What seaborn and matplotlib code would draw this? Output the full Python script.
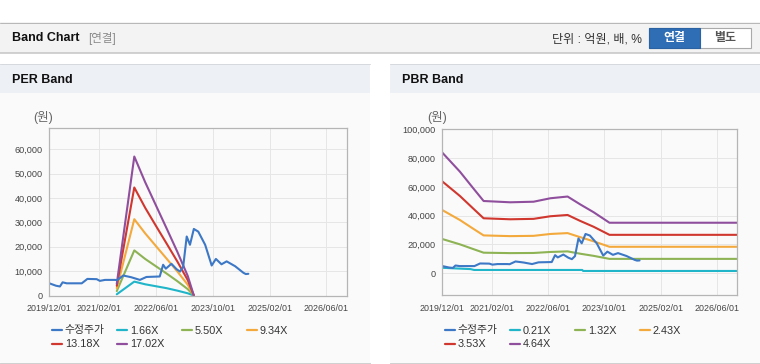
import pandas as pd
import seaborn as sns
import matplotlib.pyplot as plt
from matplotlib.patches import Rectangle
from matplotlib.lines import Line2D
from matplotlib.ticker import FuncFormatter

W, H = 760, 364

# adjusted share price (same series on both charts)
price_dates = ["2019-12-01", "2020-01-28", "2020-03-01", "2020-03-24", "2020-04-28",
               "2020-09-04", "2020-10-22", "2021-01-10", "2021-02-06", "2021-03-22",
               "2021-06-15", "2021-07-05", "2021-08-25", "2021-11-01", "2022-01-15",
               "2022-03-12", "2022-07-04", "2022-08-02", "2022-08-25", "2022-10-12",
               "2022-11-25", "2022-12-25", "2023-01-21", "2023-02-20", "2023-03-20",
               "2023-04-22", "2023-05-30", "2023-07-28", "2023-09-22", "2023-10-28",
               "2023-12-15", "2024-01-28", "2024-04-10", "2024-06-20", "2024-07-10",
               "2024-08-01"]
price_values = [5000, 4000, 3700, 5400, 5000,
                5000, 6800, 6700, 6000, 6400,
                6400, 6300, 8200, 7500, 6400,
                7600, 7800, 12600, 11000, 13000,
                10800, 9800, 11900, 24200, 20800,
                27300, 26200, 20800, 12300, 15000,
                12800, 14000, 12000, 9300, 8800,
                8900]

# PER bands
per_dates = ["2021-07-01", "2021-11-28", "2022-03-01", "2022-06-01", "2022-09-01",
             "2022-12-01", "2023-03-01", "2023-04-22"]
per_labels = ["1.66X", "5.50X", "9.34X", "13.18X", "17.02X"]
per_1_66 = [500, 5700, 4600, 3800, 3000, 2000, 900, 0]
per_5_50 = [1800, 18500, 15000, 12000, 9000, 5900, 2600, 0]
per_9_34 = [3000, 31300, 25500, 20300, 15100, 9900, 4400, 0]
per_13_18 = [4000, 44300, 36000, 28600, 21300, 14000, 6300, 0]
per_17_02 = [4800, 57000, 46500, 37000, 27500, 18000, 8000, 0]

# PBR bands
pbr_dates = ["2019-12-01", "2020-05-01", "2020-08-25", "2020-11-22", "2021-07-10",
             "2022-01-28", "2022-06-22", "2022-11-18", "2023-03-06", "2023-07-01",
             "2023-11-15", "2026-11-25"]
pbr_labels = ["0.21X", "1.32X", "2.43X", "3.53X", "4.64X"]
pbr_0_21_dates = ["2019-12-01", "2020-08-01", "2020-09-01", "2023-03-25", "2023-04-01",
                  "2026-11-25"]
pbr_0_21 = [3800, 2900, 2300, 2300, 1600, 1600]
pbr_1_32 = [23800, 20100, 16800, 14300, 14000, 14100, 14800, 15200, 13600, 12100, 10000, 10000]
pbr_2_43 = [43900, 37000, 30900, 26300, 25800, 26000, 27300, 27900, 25100, 22200, 18400, 18400]
pbr_3_53 = [63800, 53700, 44900, 38200, 37500, 37800, 39600, 40500, 36400, 32300, 26700, 26700]
pbr_4_64 = [83800, 70600, 59000, 50200, 49300, 49700, 52100, 53300, 47900, 42400, 35100, 35100]

tick_dates = ["2019-12-01", "2021-02-01", "2022-06-01", "2023-10-01", "2025-02-01", "2026-06-01"]
tick_labels = ["2019/12/01", "2021/02/01", "2022/06/01", "2023/10/01", "2025/02/01", "2026/06/01"]

colors = ["#3d78c6", "#20b5c9", "#8db354", "#f3a93c", "#d0372e", "#8f4f9d"]

sns.set_style("white")
FONT = ["Liberation Sans", "Noto Sans CJK KR", "DejaVu Sans"]
plt.rcParams["font.family"] = FONT


def fx(px):
    return px / W


def fy(py):
    return 1 - py / H


fig = plt.figure(figsize=(W / 100, H / 100), dpi=100)
fig.patch.set_facecolor("white")


def rect(x0, y0, x1, y1, fc, ec="none", lw=0.0, z=-5):
    fig.add_artist(Rectangle((fx(x0), fy(y1)), (x1 - x0) / W, (y1 - y0) / H,
                             transform=fig.transFigure, facecolor=fc, edgecolor=ec,
                             linewidth=lw, zorder=z))


def hline(x0, x1, y, color, lw=1.0, z=-4):
    fig.add_artist(Line2D([fx(x0), fx(x1)], [fy(y), fy(y)], transform=fig.transFigure,
                          color=color, linewidth=lw * 0.72, zorder=z))


# top header bar
rect(0, 22.5, 760, 52.5, "#f3f3f3")
hline(0, 760, 22.5, "#b8b8b8")
hline(0, 760, 52.8, "#c4c4c4", lw=1.5)
fig.text(fx(12), fy(38), "Band Chart", fontsize=9, fontweight="bold", color="#111",
         va="center", ha="left")
fig.text(fx(88), fy(38.5), "[연결]", fontsize=8.3, color="#8a8a8a", va="center", ha="left")
fig.text(fx(641.5), fy(39), "단위 : 억원, 배, %", fontsize=8.7, color="#333",
         va="center", ha="right")
rect(648.5, 28.5, 750.5, 47.5, "white", ec="#aaaaaa", lw=0.8, z=-3)
rect(648.5, 28.5, 699.5, 47.5, "#2f6db4", ec="#2a62a3", lw=0.8, z=-2)
fig.text(fx(674), fy(38.5), "연결", fontsize=8.6, fontweight="bold", color="white",
         va="center", ha="center")
fig.text(fx(725), fy(38.5), "별도", fontsize=8.6, fontweight="bold", color="#555",
         va="center", ha="center")

# panels
for px0, px1, title in [(0, 370, "PER Band"), (390, 760, "PBR Band")]:
    rect(px0, 92.7, px1, 362, "#fafafa")
    rect(px0, 64.3, px1, 92.7, "#edf1f6")
    hline(px0, px1, 64.3, "#d6d9dd")
    hline(px0, px1, 362.7, "#d0d0d0", lw=1.2)
    fig.text(fx(px0 + 12), fy(80), title, fontsize=9, fontweight="bold", color="#111",
             va="center", ha="left")


def draw_chart(box, bands, band_labels, ylim, yticks, unit_x):
    left, top, right, bottom = box
    ax = fig.add_axes([fx(left), fy(bottom), (right - left) / W, (bottom - top) / H])
    ax.set_facecolor("none")
    for dates, vals, c in bands:
        sns.lineplot(x=pd.to_datetime(dates), y=vals, ax=ax, color=c, linewidth=1.5,
                     legend=False)
    sns.lineplot(x=pd.to_datetime(price_dates), y=price_values, ax=ax, color=colors[0],
                 linewidth=1.5, legend=False)
    ax.set_xlim(pd.Timestamp("2019-12-01"), pd.Timestamp("2026-11-24"))
    ax.set_ylim(*ylim)
    ax.set_xticks(pd.to_datetime(tick_dates))
    ax.set_xticklabels(tick_labels)
    ax.set_yticks(yticks)
    ax.yaxis.set_major_formatter(FuncFormatter(lambda v, p: f"{int(v):,}"))
    ax.set_xlabel("")
    ax.set_ylabel("")
    ax.grid(True, color="#e6e6e6", linewidth=0.7)
    ax.set_axisbelow(True)
    for s in ax.spines.values():
        s.set_color("#b5b5b5")
        s.set_linewidth(0.9)
    ax.tick_params(axis="x", length=3, width=0.7, color="#b5b5b5", pad=3,
                   labelsize=6.4, labelcolor="#444")
    ax.tick_params(axis="y", length=0, pad=5, labelsize=6.6, labelcolor="#444")
    fig.text(fx(unit_x), fy(118), "(원)", fontsize=9, color="#666", va="center", ha="left")

    # legend laid out like the reference (fixed column width)
    names = ["수정주가"] + band_labels
    for i, name in enumerate(names):
        col, row = i % 4, i // 4
        x0 = left + 3 + col * 65
        y0 = 330 + row * 13.5
        fig.add_artist(Line2D([fx(x0), fx(x0 + 10)], [fy(y0), fy(y0)],
                              transform=fig.transFigure, color=colors[i], linewidth=1.6))
        fig.text(fx(x0 + 12.5), fy(y0 + 0.5), name, fontsize=7.8, color="#333",
                 va="center", ha="left")
    return ax


per_bands = [(per_dates, per_1_66, colors[1]), (per_dates, per_5_50, colors[2]),
             (per_dates, per_9_34, colors[3]), (per_dates, per_13_18, colors[4]),
             (per_dates, per_17_02, colors[5])]
draw_chart((49.3, 128, 347, 295.5), per_bands, per_labels, (0, 68700),
           [0, 10000, 20000, 30000, 40000, 50000, 60000], 33)

pbr_bands = [(pbr_0_21_dates, pbr_0_21, colors[1]), (pbr_dates, pbr_1_32, colors[2]),
             (pbr_dates, pbr_2_43, colors[3]), (pbr_dates, pbr_3_53, colors[4]),
             (pbr_dates, pbr_4_64, colors[5])]
draw_chart((442.3, 129.3, 737.3, 295.3), pbr_bands, pbr_labels, (-15300, 100000),
           [0, 20000, 40000, 60000, 80000, 100000], 427)

fig.savefig("out.png", dpi=100)
